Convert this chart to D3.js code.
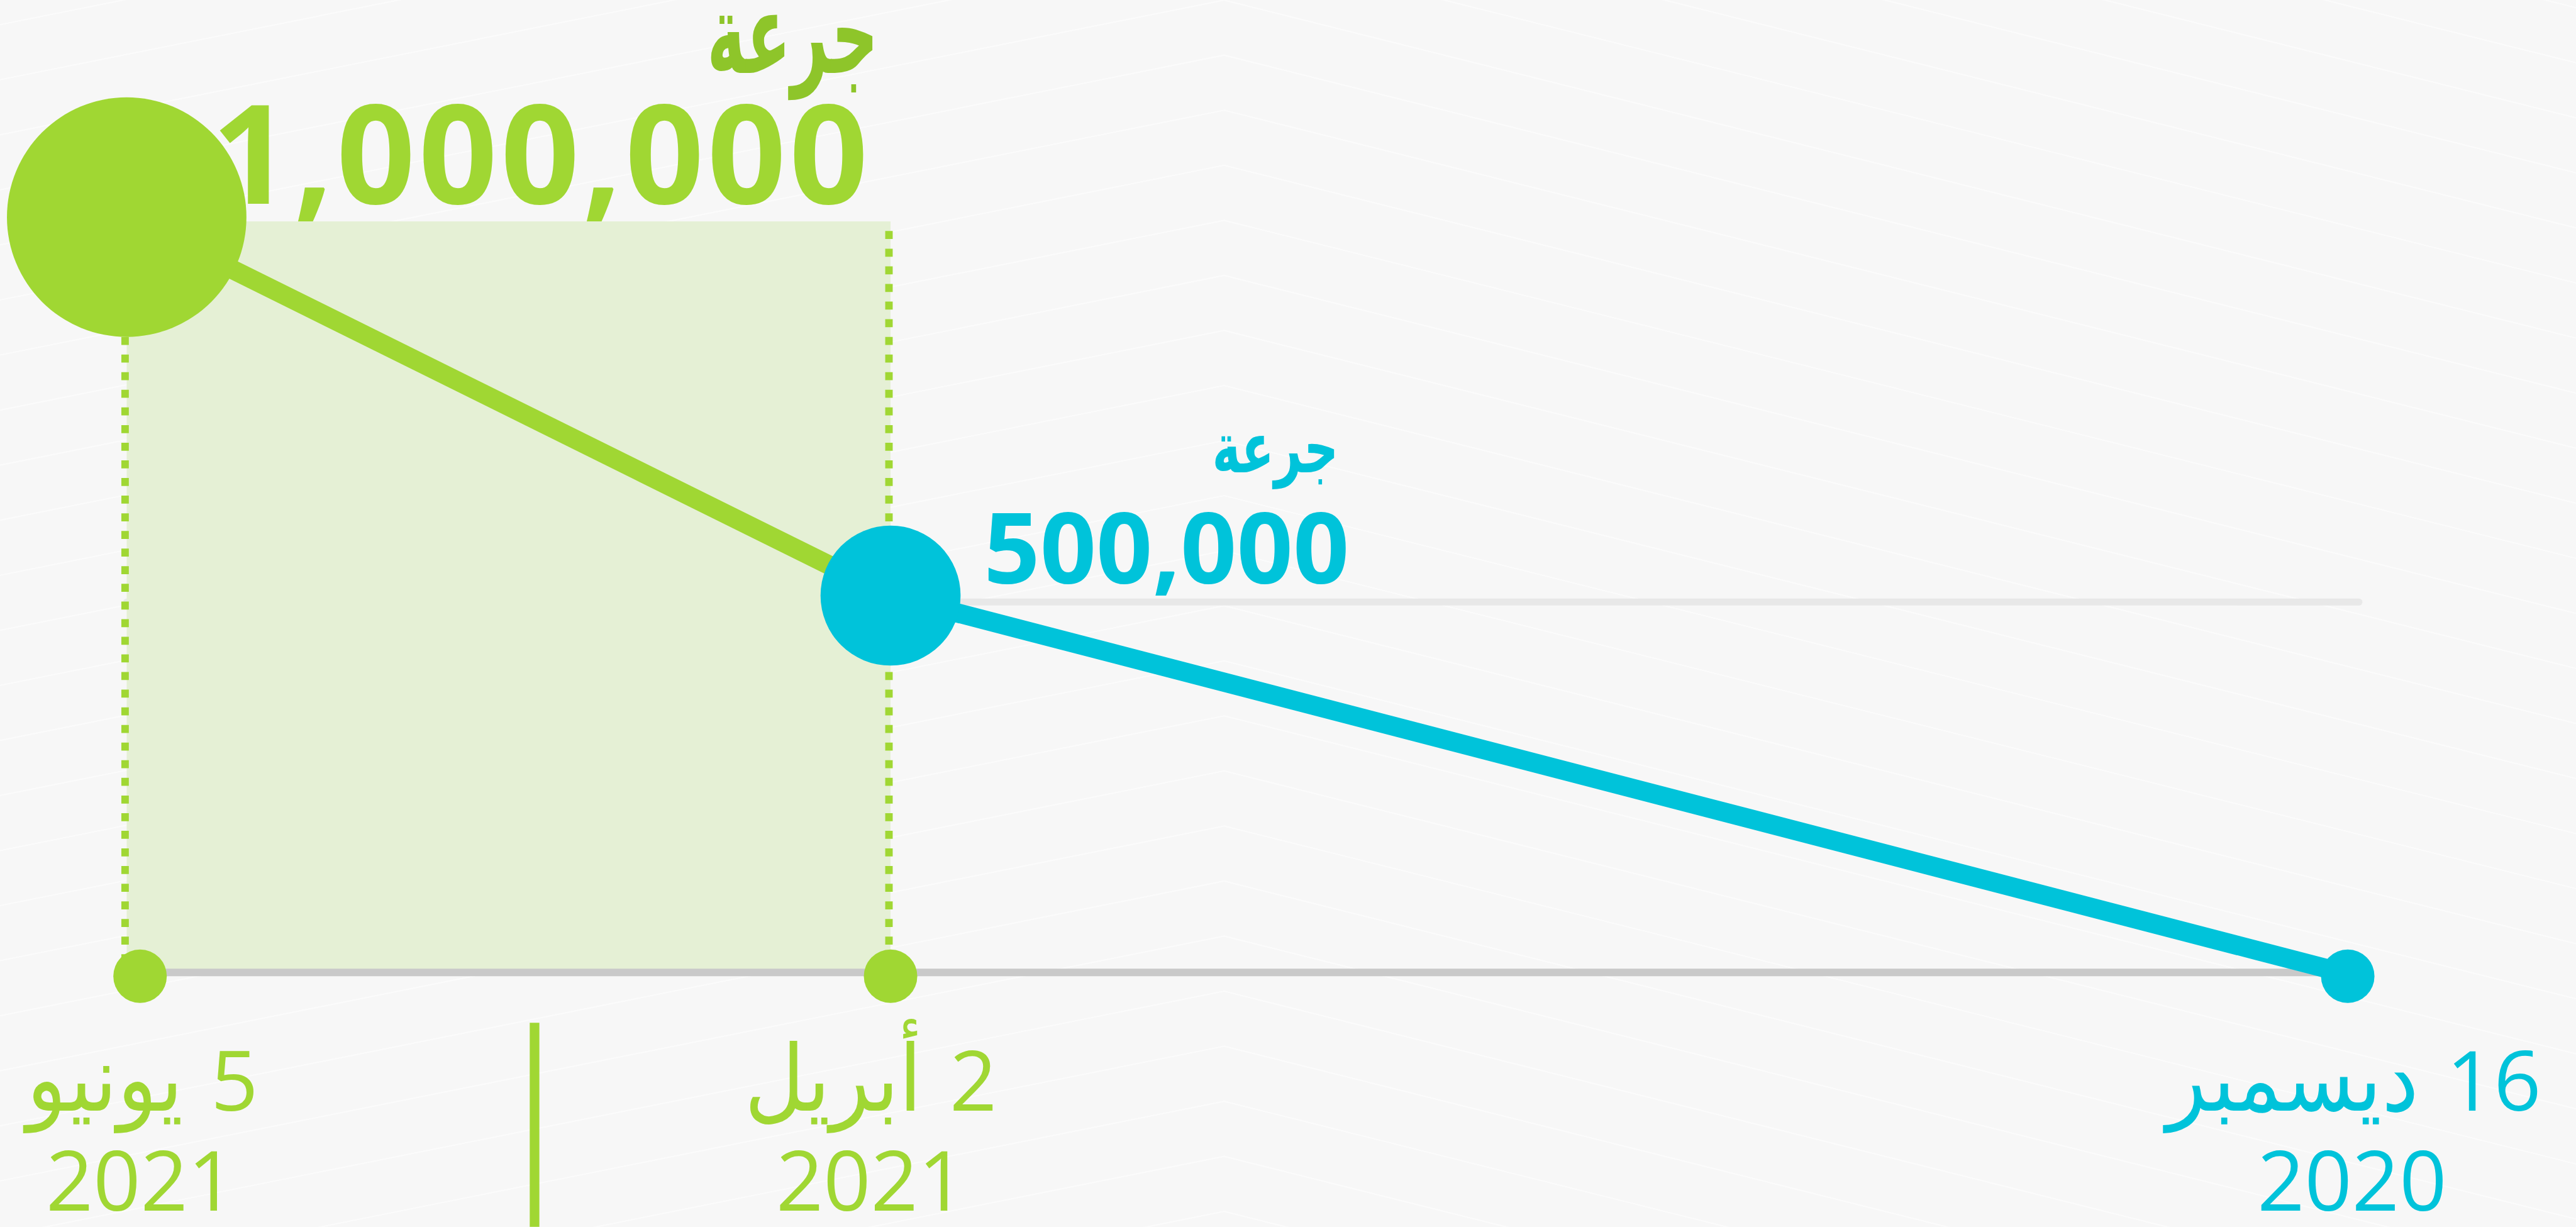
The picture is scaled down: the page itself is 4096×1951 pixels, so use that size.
<!DOCTYPE html>
<html>
<head>
<meta charset="utf-8">
<script src="https://cdn.jsdelivr.net/npm/d3@7"></script>
<style>
  html, body { margin: 0; padding: 0; background: #f7f7f7; overflow: hidden; }
  svg { display: block; }
</style>
</head>
<body>
<script>
// values
const dates = ["2020-12-16", "2021-04-02", "2021-06-05"];
const doses = [0, 500000, 1000000];
const dayNumbers = ["16", "2", "5"];
const monthNames = ["ديسمبر", "أبريل", "يونيو"];
const yearLabels = ["2020", "2021", "2021"];
const doseWord = "جرعة";

const green = "#a0d733";
const greenDark = "#8ec52a";
const blue = "#00c3da";

const W = 4819, H = 2295;

const parse = d3.timeParse("%Y-%m-%d");
const points = dates.map((d, i) => ({
    date: parse(d), value: doses[i],
    dayNum: dayNumbers[i], month: monthNames[i], year: yearLabels[i]
}));

// time runs right to left
const x = d3.scaleTime()
    .domain(points.map(d => d.date))
    .range([4392, 1666, 237]);

const y = d3.scaleLinear()
    .domain([0, 1000000])
    .range([1822, 406]);

const svg = d3.select("body").append("svg")
    .attr("width", 4096)
    .attr("height", 1951)
    .attr("viewBox", [0, 0, W, H]);

svg.append("rect").attr("width", W).attr("height", H).attr("fill", "#f7f7f7");

// faint chevron texture in the background
const peak = 2290;
const bg = svg.append("g").attr("stroke", "#ffffff").attr("stroke-width", 2.5).attr("fill", "none").attr("opacity", 0.6);
d3.range(-12, 30).forEach(k => {
    const y0 = k * 103;
    bg.append("path")
        .attr("d", d3.line()([[0, y0 + 0.2 * peak], [peak, y0], [W, y0 + 0.25 * (W - peak)]]));
});

const xJun = x(points[2].date), xApr = x(points[1].date), xDec = x(points[0].date);
const y0 = y(0);

// gridline for 500,000
svg.append("line")
    .attr("x1", xJun).attr("x2", 4413)
    .attr("y1", y(500000) + 12).attr("y2", y(500000) + 12)
    .attr("stroke", "#e8e8e8").attr("stroke-width", 13).attr("stroke-linecap", "round");

// shaded period between April and June
svg.append("rect")
    .attr("x", xJun).attr("y", y(1000000) + 8)
    .attr("width", xApr - xJun).attr("height", y0 - 6 - y(1000000) - 8)
    .attr("fill", "#e5f0d5");

// baseline
svg.append("line")
    .attr("x1", xJun).attr("x2", xDec)
    .attr("y1", y0 - 3).attr("y2", y0 - 3)
    .attr("stroke", "#c9c9c9").attr("stroke-width", 14);

// dotted guides
[xJun, xApr].forEach(xv => {
    svg.append("line")
        .attr("x1", xv - 3).attr("x2", xv - 3)
        .attr("y1", y(1000000) + 26).attr("y2", y0 - 6)
        .attr("stroke", green).attr("stroke-width", 14)
        .attr("stroke-dasharray", "15 18");
});

// segments
const line = d3.line().x(d => x(d.date)).y(d => y(d.value));
svg.append("path").datum([points[2], points[1]])
    .attr("d", line).attr("fill", "none")
    .attr("stroke", green).attr("stroke-width", 36);
svg.append("path").datum([points[1], points[0]])
    .attr("d", line).attr("fill", "none")
    .attr("stroke", blue).attr("stroke-width", 36);

// value circles
svg.append("circle").attr("cx", xJun).attr("cy", y(1000000)).attr("r", 224).attr("fill", green);
svg.append("circle").attr("cx", xApr).attr("cy", y(500000)).attr("r", 131).attr("fill", blue);

// date dots on the baseline
const dotColor = [blue, green, green];
const dotShift = [0, 0, 25];
svg.selectAll(".dot").data(points).join("circle")
    .attr("class", "dot")
    .attr("cx", (d, i) => x(d.date) + dotShift[i])
    .attr("cy", y0 + 4)
    .attr("r", 50)
    .attr("fill", (d, i) => dotColor[i]);

// date labels: day number + month on first line, year below
const labelShift = [8, -37, 26];
const latin = "'Open Sans', 'DejaVu Sans', sans-serif";
const dl = svg.selectAll(".date").data(points).join("g")
    .attr("class", "date")
    .attr("fill", (d, i) => dotColor[i]);

dl.each(function (d, i) {
    const g = d3.select(this);
    const cx = x(d.date) + labelShift[i];
    const first = g.append("g");
    first.append("text")
        .attr("x", 0).attr("y", 0)
        .attr("font-family", latin).attr("font-size", 155)
        .attr("text-anchor", "start")
        .text(d.dayNum);
    first.append("g")
        .attr("transform", "translate(-52,0) scale(0.9,1)")
        .append("text")
        .attr("font-family", "'DejaVu Sans', sans-serif").attr("font-size", 172)
        .attr("text-anchor", "end")
        .text(d.month);
    const bb = first.node().getBBox();
    first.attr("transform", `translate(${cx - (bb.x + bb.width / 2)},2078)`);

    g.append("text")
        .attr("x", cx).attr("y", 2265)
        .attr("font-family", latin).attr("font-size", 155)
        .attr("text-anchor", "middle")
        .text(d.year);
});

// separator
svg.append("line")
    .attr("x1", 1000).attr("x2", 1000)
    .attr("y1", 1913).attr("y2", H)
    .attr("stroke", green).attr("stroke-width", 18);

// value labels
const fmt = d3.format(",");
svg.append("text")
    .attr("x", xJun + 1393).attr("y", 381)
    .attr("text-anchor", "end").attr("font-family", latin).attr("font-weight", 700)
    .attr("font-size", 258).attr("letter-spacing", 6).attr("fill", green)
    .text(fmt(points[2].value));
svg.append("g")
    .attr("transform", `translate(${xJun + 1406},136) scale(0.58,1)`)
    .append("text")
    .attr("text-anchor", "end").attr("font-family", "'DejaVu Sans', sans-serif").attr("font-weight", 700)
    .attr("font-size", 210).attr("fill", greenDark)
    .text(doseWord);

svg.append("text")
    .attr("x", xApr + 858).attr("y", 1090)
    .attr("text-anchor", "end").attr("font-family", latin).attr("font-weight", 700)
    .attr("font-size", 184).attr("fill", blue)
    .text(fmt(points[1].value));
svg.append("g")
    .attr("transform", `translate(${xApr + 838},883) scale(0.68,1)`)
    .append("text")
    .attr("text-anchor", "end").attr("font-family", "'DejaVu Sans', sans-serif").attr("font-weight", 700)
    .attr("font-size", 132).attr("fill", blue)
    .text(doseWord);
</script>
</body>
</html>
